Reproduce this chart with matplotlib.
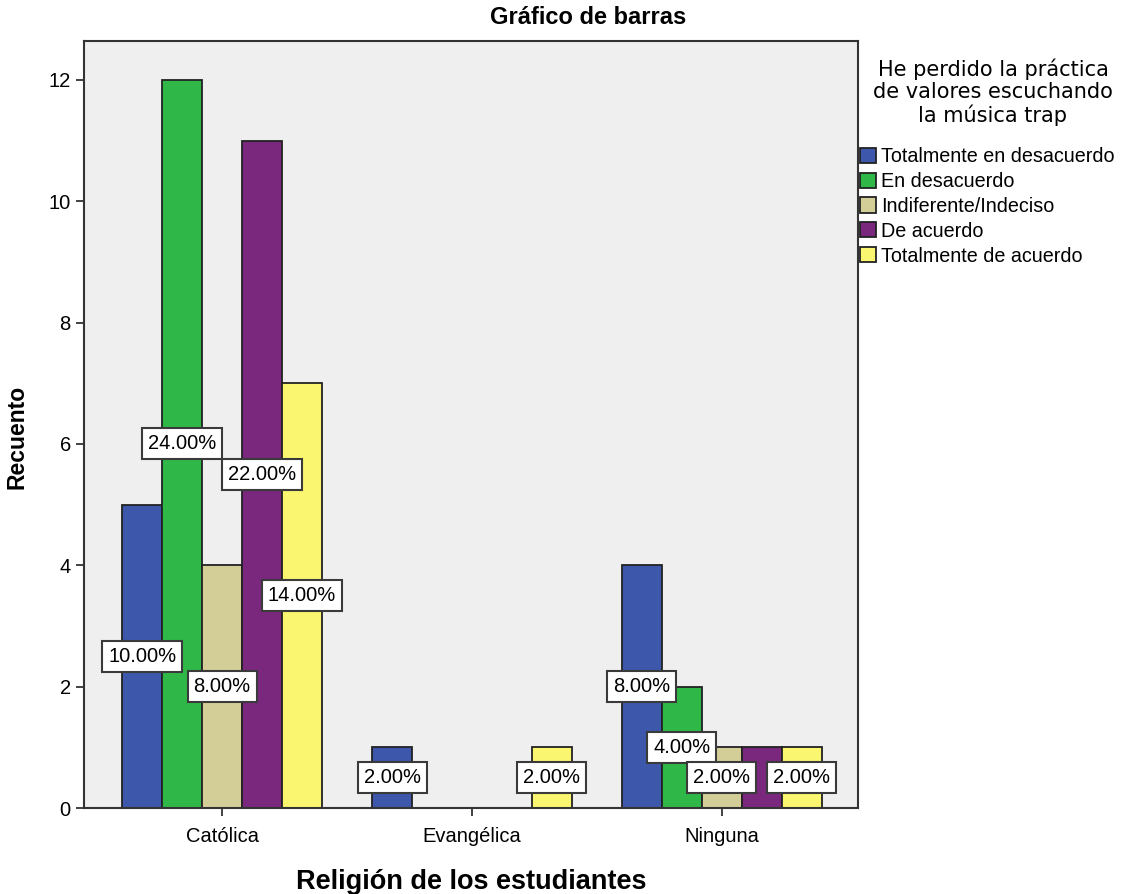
import numpy as np
import matplotlib
matplotlib.use("Agg")
import matplotlib.pyplot as plt

plt.rcParams['font.family'] = ['Liberation Sans', 'DejaVu Sans']

# datos
religiones = ['Católica', 'Evangélica', 'Ninguna']
respuestas = ['Totalmente en desacuerdo', 'En desacuerdo', 'Indiferente/Indeciso',
              'De acuerdo', 'Totalmente de acuerdo']
colores = ['#3D58AB', '#2FB848', '#D3CE98', '#7A287E', '#FAF670']
conteos = {
    'Totalmente en desacuerdo': [5, 1, 4],
    'En desacuerdo':            [12, 0, 2],
    'Indiferente/Indeciso':     [4, 0, 1],
    'De acuerdo':               [11, 0, 1],
    'Totalmente de acuerdo':    [7, 1, 1],
}
total = sum(sum(v) for v in conteos.values())
# etiqueta tapada por las vecinas en el original (Ninguna / De acuerdo)
ocultas = {('Ninguna', 'De acuerdo')}

fig = plt.figure(figsize=(11.27, 8.94), dpi=100)
ax = fig.add_axes([84/1127, 1 - 808/894, (858-84)/1127, (808-41)/894])
ax.set_facecolor('#EFEFEF')

x = np.arange(len(religiones))
w = 0.16
for i, resp in enumerate(respuestas):
    pos = x + (i - 2) * w
    vals = conteos[resp]
    ax.bar(pos, vals, width=w, color=colores[i], edgecolor='#222222',
           linewidth=1.3, label=resp, zorder=2)
    for rel, p, v in zip(religiones, pos, vals):
        if v > 0 and (rel, resp) not in ocultas:
            ax.text(p, v / 2, f'{v / total * 100:.2f}%', ha='center', va='center',
                    fontsize=14.5, zorder=4,
                    bbox=dict(boxstyle='square,pad=0.3', fc='white', ec='#3a3a3a', lw=1.5))

ax.set_xlim(-0.553, 2.545)
ax.set_ylim(0, 12.64)
ax.set_yticks(range(0, 13, 2))
ax.set_xticks(x)
ax.set_xticklabels(religiones)
ax.tick_params(axis='both', direction='out', length=6, width=1.3, labelsize=14.5, color='#333333')
ax.tick_params(axis='x', pad=8)
for s in ax.spines.values():
    s.set_color('#333333')
    s.set_linewidth(1.5)

ax.set_xlabel('Religión de los estudiantes', fontsize=19.5, fontweight='bold', labelpad=16)
ax.set_ylabel('Recuento', fontsize=16.5, fontweight='bold')
ax.yaxis.set_label_coords(-0.072, 0.484)
fig.text(588/1127, 1 - 17/894, 'Gráfico de barras', fontsize=17, fontweight='bold',
         ha='center', va='center')

# título de la leyenda
fig.text(993/1127, 1 - 92/894, 'He perdido la práctica\nde valores escuchando\nla música trap',
         family='DejaVu Sans', fontsize=15, ha='center', va='center',
         multialignment='center', linespacing=1.12)
leg = fig.legend(loc='upper left', bbox_to_anchor=(860/1127, 1 - 147/894), frameon=False,
                 fontsize=14.2, handlelength=0.8, handleheight=0.8, handletextpad=0.25,
                 labelspacing=0.3, borderpad=0, borderaxespad=0)

fig.savefig('out.png', dpi=100)
